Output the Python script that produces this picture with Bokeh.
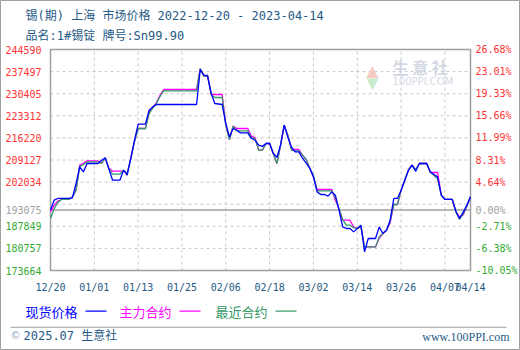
import pandas as pd
from bokeh.plotting import figure
from bokeh.models import Range1d, Label, BoxAnnotation, ColumnDataSource
from bokeh.core.properties import value
from bokeh.embed import file_html
from bokeh.resources import INLINE

# ---------------- data ----------------
base_date = "2022-12-20"
end_day = 115

spot_day = [0,1,2,5,6,7,8,9,10,13,14,15,16,17,19,20,21,22,23,24,26,27,28,29,40,41,42,43,44,45,
            47,48,49,50,51,52,54,55,56,57,58,59,60,61,62,63,64,65,66,67,68,69,70,71,72,73,74,75,76,77,
            78,79,80,81,82,83,84,85,86,87,89,90,91,92,93,94,95,96,97,98,99,100,101,103,104,105,106,107,108,110,
            111,112,113,114,115]
spot_price = [193075,196230,196780,196780,196970,201590,206920,205310,208010,208010,
              209070,209800,206200,202650,202650,205860,204300,209700,215480,220620,
              220620,225110,226170,226940,226940,238170,236340,236020,230470,227260,
              226940,220840,216540,219240,218690,217830,217830,216100,215480,213880,
              213500,214430,214430,211220,210000,214000,220300,216450,213230,211730,
              211730,209700,208100,206500,203710,198890,198060,198060,197510,198890,
              197840,193020,187660,187150,187150,186060,187150,188210,179640,183940,
              183940,187660,185540,186600,189810,196780,196780,199440,202650,205860,
              207460,205500,208010,208010,205310,204500,203710,197840,196460,196460,
              192700,190360,192380,194630,197290]

main_day = [0,1,2,3,5,6,7,8,9,10,13,14,15,16,17,20,21,22,23,24,26,27,28,29,30,31,40,41,42,43,
            44,47,48,49,50,51,54,55,56,57,58,59,60,61,62,63,64,65,66,68,69,70,71,72,73,77,78,79,80,82,
            83,84,85,86,89,90,91,92,93,94,95,96,97,98,99,100,101,103,104,106,107,108,110,111,112,113,114,115]
main_price = [192470,194600,195910,196460,196460,197300,199440,207460,208100,208840,
              208840,208200,209800,206500,205530,205530,205000,209700,215000,219240,
              219240,224500,226000,227500,229900,231750,231750,238490,236000,236340,
              230150,230150,220300,215710,220000,219240,219240,216800,216300,212280,
              212280,214430,214430,211220,208010,213880,220300,217000,212500,212500,
              210670,209300,206500,203710,199660,199660,196230,193500,189810,189810,
              187660,187150,187660,181240,181240,184000,185540,186600,189000,194850,
              194850,199440,202650,205860,207460,206000,208010,208010,205120,205120,
              197840,196460,196460,192470,190870,191500,194300,197290]

near_day = [0,1,2,3,5,6,7,8,9,10,13,14,15,16,17,19,20,21,22,23,24,26,27,28,29,30,31,40,41,42,
            43,44,45,47,48,49,50,51,54,55,56,57,58,59,60,61,62,63,64,65,66,67,68,69,70,71,72,73,77,78,
            79,80,81,82,83,84,85,86,89,90,91,92,93,94,95,96,97,98,99,100,101,103,104,105,106,107,108,110,111,112,
            113,114,115]
near_price = [190360,193500,195500,196460,196460,197300,199440,207000,207700,208500,
              208500,208000,209800,206200,204570,204570,205860,204800,209700,215000,
              219240,219240,224000,225800,227300,229500,231300,231300,238490,236000,
              236340,230150,229190,229190,220300,215710,220000,218470,218470,216300,
              216000,212280,212280,214430,214430,211220,208010,213880,220300,217000,
              212300,212050,212050,210670,209300,206500,204200,199230,199230,197000,
              193500,190000,188210,188210,187400,187150,187660,181240,181240,184450,
              185540,186600,189500,194850,194850,199440,202650,205860,207460,206000,
              208010,208010,205310,204250,203000,197840,196460,196460,192470,190040,
              191800,194300,197290]

x_tick_day = [0, 12, 24, 36, 48, 60, 72, 84, 96, 108, 115]
x_tick_labels = ["12/20", "01/01", "01/13", "01/25", "02/06", "02/18", "03/02",
                 "03/14", "03/26", "04/07", "04/14"]

base_price = 193075
y_min, y_max = 173664, 244590
grid_values = [237497, 230405, 223312, 216220, 209127, 202034, 194942, 187849, 180757]
left_tick_values = [244590, 237497, 230405, 223312, 216220, 209127, 202034, 193075, 187849, 180757, 173664]
left_tick_labels = ["244590", "237497", "230405", "223312", "216220", "209127", "202034",
                    "193075", "187849", "180757", "173664"]
right_tick_labels = ["26.68%", "23.01%", "19.33%", "15.66%", "11.99%", "8.31%", "4.64%",
                     "0.00%", "-2.71%", "-6.38%", "-10.05%"]

series_names = ["现货价格", "主力合约", "最近合约"]
series_colors = ["#0000FF", "#FF00FF", "#339966"]

title_text = "锡(期) 上海 市场价格 2022-12-20 - 2023-04-14"
subtitle_text = "品名:1#锡锭 牌号:Sn99.90"

# ---------------- layout helpers ----------------
W, H = 520, 350
FL, FT, FW, FH = 50, 49, 420, 221  # data area on the canvas

t0 = pd.Timestamp(base_date)
def ms(d):
    return (t0 + pd.Timedelta(days=d)).value / 1e6

x0, x1 = ms(0), ms(end_day)
xpp = (x1 - x0) / FW
ypp = (y_max - y_min) / FH
x_range = Range1d(x0 - FL * xpp, x1 + (W - FL - FW) * xpp)
y_range = Range1d(y_min - (H - FT - FH) * ypp, y_max + FT * ypp)

def sx(px):
    return px
def sy(py):
    return H - py

title_col = "#1F5A85"
mono = "DejaVu Sans Mono, Noto Sans CJK SC"
tick_font_size = "10px"

# ---------------- figure ----------------
p = figure(width=W, height=H, output_backend="svg", toolbar_location=None,
           x_range=x_range, y_range=y_range,
           x_axis_location=None, y_axis_location=None,
           min_border=0)
p.background_fill_color = "white"
p.border_fill_color = "white"
p.outline_line_color = "#A0A0A0"
p.outline_line_width = 1
p.xgrid.visible = False
p.ygrid.visible = False

# grid
vt = x_tick_day[1:-1]
p.segment(x0=[ms(d) for d in vt], x1=[ms(d) for d in vt],
          y0=[y_min] * len(vt), y1=[y_max] * len(vt),
          line_color="#C8C8C8", line_dash="3 3", line_width=1)
p.segment(x0=[x0] * len(grid_values), x1=[x1] * len(grid_values),
          y0=grid_values, y1=grid_values,
          line_color="#C8C8C8", line_dash="3 3", line_width=1)
# base line
p.segment(x0=[x0], x1=[x1], y0=[base_price], y1=[base_price], line_color="#A0A0A0", line_width=1.5)
# frame
p.quad(left=[x0], right=[x1], bottom=[y_min], top=[y_max], fill_color=None,
       line_color="#A0A0A0", line_width=1.5)

# watermark
p.add_layout(Label(x=sx(362), y=sy(70), x_units="screen", y_units="screen", text="▲",
                   text_color="#F5C9C0", text_font_size="20px", text_baseline="middle"))
p.add_layout(Label(x=sx(362), y=sy(82), x_units="screen", y_units="screen", text="▼",
                   text_color="#C9EBCB", text_font_size="20px", text_baseline="middle"))
p.add_layout(Label(x=sx(392), y=sy(66), x_units="screen", y_units="screen", text="生 意 社",
                   text_color="#D3D9E4", text_font="Noto Sans CJK SC", text_font_size="16px",
                   text_font_style="bold", text_baseline="middle"))
p.add_layout(Label(x=sx(392), y=sy(81), x_units="screen", y_units="screen", text="100PPI.COM",
                   text_color="#D3D9E4", text_font="DejaVu Sans", text_font_size="10px",
                   text_baseline="middle"))

# series
for days, prices, col in [(main_day, main_price, series_colors[1]),
                          (near_day, near_price, series_colors[2]),
                          (spot_day, spot_price, series_colors[0])]:
    src = ColumnDataSource(dict(x=[ms(d) for d in days], y=prices))
    p.line("x", "y", source=src, line_color=col, line_width=1.3)

# y tick labels
def tick_color(v):
    if v > base_price:
        return "#FF3333"
    if v < base_price:
        return "#33AA33"
    return "#A0A0A0"

ysrc = ColumnDataSource(dict(xl=[x0] * len(left_tick_values), xr=[x1] * len(left_tick_values),
                             y=left_tick_values, lt=left_tick_labels, rt=right_tick_labels,
                             c=[tick_color(v) for v in left_tick_values]))
p.text(x="xl", y="y", text="lt", source=ysrc, x_offset=-9, text_align="right",
       text_baseline="middle", text_color="c", text_font=value("DejaVu Sans Mono"),
       text_font_size=tick_font_size)
p.text(x="xr", y="y", text="rt", source=ysrc, x_offset=5, text_align="left",
       text_baseline="middle", text_color="c", text_font=value("DejaVu Sans Mono"),
       text_font_size=tick_font_size)

# x tick labels
xsrc = ColumnDataSource(dict(x=[ms(d) for d in x_tick_day], y=[y_min] * len(x_tick_day), t=x_tick_labels))
p.text(x="x", y="y", text="t", source=xsrc, y_offset=16.5, text_align="center",
       text_baseline="middle", text_color=title_col, text_font=value("DejaVu Sans Mono"),
       text_font_size=tick_font_size)

# titles
p.add_layout(Label(x=sx(25), y=sy(15.5), x_units="screen", y_units="screen", text=title_text,
                   text_baseline="middle", text_color=title_col, text_font=mono, text_font_size="12px"))
p.add_layout(Label(x=sx(25), y=sy(35.5), x_units="screen", y_units="screen", text=subtitle_text,
                   text_baseline="middle", text_color=title_col, text_font=mono, text_font_size="12px"))

# legend
leg_x = [25, 119, 215]
for lx, name, col in zip(leg_x, series_names, series_colors):
    p.add_layout(Label(x=sx(lx), y=sy(310.5), x_units="screen", y_units="screen", text=name,
                       text_baseline="middle", text_color=col, text_font="Noto Sans CJK SC",
                       text_font_size="13px"))
    p.add_layout(BoxAnnotation(left=sx(lx + 60), right=sx(lx + 81), top=sy(310), bottom=sy(311.2),
                               left_units="screen", right_units="screen", top_units="screen",
                               bottom_units="screen", fill_color=col, fill_alpha=1,
                               line_color=None, level="overlay"))

# footer separator
p.add_layout(BoxAnnotation(left=sx(10), right=sx(506), top=sy(326.3), bottom=sy(327.3),
                           left_units="screen", right_units="screen", top_units="screen",
                           bottom_units="screen", fill_color="#A0A0A0", fill_alpha=1,
                           line_color=None, level="overlay"))

# footer text
p.add_layout(Label(x=sx(10), y=sy(335), x_units="screen", y_units="screen", text="©",
                   text_baseline="middle", text_color="#8FA6BD", text_font="DejaVu Sans",
                   text_font_size="10px"))
p.add_layout(Label(x=sx(23), y=sy(335), x_units="screen", y_units="screen", text="2025.07 生意社",
                   text_baseline="middle", text_color=title_col, text_font=mono, text_font_size="12px"))
p.add_layout(Label(x=sx(509), y=sy(336), x_units="screen", y_units="screen", text="www.100PPI.com",
                   text_align="right", text_baseline="middle", text_color=title_col,
                   text_font="Liberation Serif", text_font_size="12px"))

open("out.html", "w").write(file_html(p, INLINE))
